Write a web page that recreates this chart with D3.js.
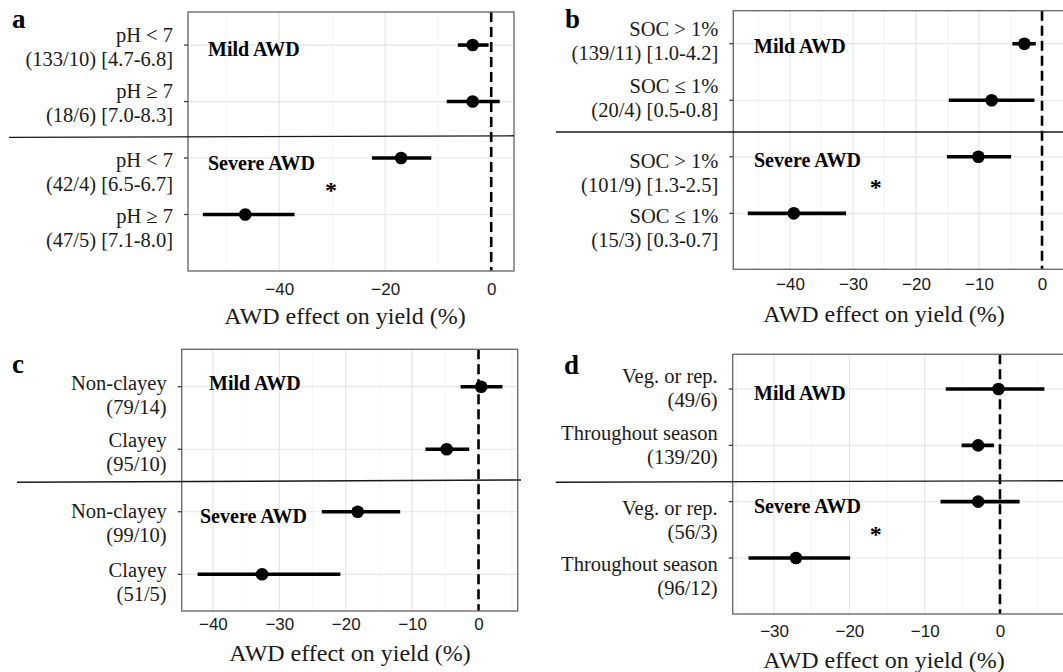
<!DOCTYPE html>
<html>
<head>
<meta charset="utf-8">
<script src="https://cdn.jsdelivr.net/npm/d3@7"></script>
<style>
  body { margin: 0; background: #fff; }
  svg { display: block; }
</style>
</head>
<body>
<div id="chart"></div>
<script>
// panel a: soil pH
const phLabels = [["pH < 7", "(133/10) [4.7-6.8]"], ["pH \u2265 7", "(18/6) [7.0-8.3]"],
                  ["pH < 7", "(42/4) [6.5-6.7]"], ["pH \u2265 7", "(47/5) [7.1-8.0]"]];
const phMean = [-3.5, -3.5, -17.0, -46.4];
const phLow  = [-6.3, -8.4, -22.5, -54.4];
const phHigh = [-0.5, 1.6, -11.3, -37.1];
const phTicks = [-40, -20, 0];

// panel b: soil organic carbon
const socLabels = [["SOC > 1%", "(139/11) [1.0-4.2]"], ["SOC \u2264 1%", "(20/4) [0.5-0.8]"],
                   ["SOC > 1%", "(101/9) [1.3-2.5]"], ["SOC \u2264 1%", "(15/3) [0.3-0.7]"]];
const socMean = [-2.8, -8.0, -10.1, -39.4];
const socLow  = [-4.7, -14.8, -15.1, -46.7];
const socHigh = [-1.0, -1.2, -4.9, -31.1];
const socTicks = [-40, -30, -20, -10, 0];

// panel c: soil texture
const texLabels = [["Non-clayey", "(79/14)"], ["Clayey", "(95/10)"],
                   ["Non-clayey", "(99/10)"], ["Clayey", "(51/5)"]];
const texMean = [0.4, -4.8, -18.2, -32.6];
const texLow  = [-2.7, -8.0, -23.6, -42.3];
const texHigh = [3.6, -1.4, -11.8, -20.8];
const texTicks = [-40, -30, -20, -10, 0];

// panel d: timing of AWD
const timLabels = [["Veg. or rep.", "(49/6)"], ["Throughout season", "(139/20)"],
                   ["Veg. or rep.", "(56/3)"], ["Throughout season", "(96/12)"]];
const timMean = [-0.2, -2.9, -2.9, -27.1];
const timLow  = [-7.2, -5.1, -7.9, -33.4];
const timHigh = [5.9, -0.8, 2.6, -19.9];
const timTicks = [-30, -20, -10, 0];

const groupNames = ["Mild AWD", "Severe AWD"];
const axisTitle = "AWD effect on yield (%)";

const width = 1063, height = 672;
const svg = d3.select("#chart").append("svg").attr("width", width).attr("height", height);

const serif = "'Liberation Serif', 'Times New Roman', serif";
const sans = "'Liberation Sans', Arial, sans-serif";

// layout per panel (pixels / domain extents)
const panels = [
  { letter: "a", labels: phLabels, mean: phMean, lo: phLow, hi: phHigh, ticks: phTicks, step: 20,
    xr: [188, 514], xd: [-57.2, 4.3], yr: [12, 271], yd: [0.415, 5.0],
    labDy: [-3.5, -4, 8.7, 8.4], letterPos: [12, 28], tickPad: 12,
    title: [345, 324], div: [9, 514, 2.635, 2.607],
    mild: [20, 11], severe: [20, 11.5], star: [-30.2, 3.52] },
  { letter: "b", labels: socLabels, mean: socMean, lo: socLow, hi: socHigh, ticks: socTicks, step: 10,
    xr: [733.3, 1070], xd: [-49.0, 4.44], yr: [10.7, 269.3], yd: [0.416, 4.99],
    labDy: [-7.7, -7, 11.6, 10], letterPos: [565, 28], tickPad: 9,
    title: [884, 322], div: [556, 1063, 2.562, 2.562],
    mild: [20.7, 9.3], severe: [20.7, 10], star: [-26.4, 3.48] },
  { letter: "c", labels: texLabels, mean: texMean, lo: texLow, hi: texHigh, ticks: texTicks, step: 10,
    xr: [181.7, 517.7], xd: [-44.7, 5.9], yr: [349.3, 611], yd: [0.402, 4.587],
    labDy: [3.3, -2.3, 6, 2.4], letterPos: [12, 373], tickPad: 7,
    title: [350, 661], div: [17, 521, 2.529, 2.492],
    mild: [27.3, 3.3], severe: [18.3, 11.6], star: null },
  { letter: "d", labels: timLabels, mean: timMean, lo: timLow, hi: timHigh, ticks: timTicks, step: 10,
    xr: [732.7, 1070], xd: [-35.5, 9.3], yr: [354.3, 614], yd: [0.384, 4.994],
    labDy: [-5.7, -5.3, 13.3, 12.7], letterPos: [564, 374], tickPad: 11,
    title: [884, 668], div: [555.7, 1063, 2.656, 2.628],
    mild: [21.3, 11], severe: [21.3, 11.6], star: [-16.5, 3.515] }
];

panels.forEach(function (p) {
  const x = d3.scaleLinear().domain(p.xd).range(p.xr);
  const y = d3.scaleLinear().domain(p.yd).range(p.yr);
  const rows = p.mean.map(function (m, i) {
    return { row: i + 1, mean: m, lo: p.lo[i], hi: p.hi[i], label: p.labels[i], dy: p.labDy[i] };
  });
  const g = svg.append("g");

  // minor grid
  const minor = [];
  p.ticks.forEach(function (t) { minor.push(t - p.step / 2, t + p.step / 2); });
  const minorIn = Array.from(new Set(minor)).filter(v => v > p.xd[0] && v < p.xd[1] && !p.ticks.includes(v));
  g.selectAll(".minor").data(minorIn).join("line")
    .attr("x1", d => x(d)).attr("x2", d => x(d))
    .attr("y1", p.yr[0]).attr("y2", p.yr[1])
    .attr("stroke", "#f2f2f2").attr("stroke-width", 0.8);

  // major grid
  g.selectAll(".major").data(p.ticks).join("line")
    .attr("x1", d => x(d)).attr("x2", d => x(d))
    .attr("y1", p.yr[0]).attr("y2", p.yr[1])
    .attr("stroke", "#e6e6e6").attr("stroke-width", 1.2);
  g.selectAll(".hgrid").data(rows).join("line")
    .attr("x1", p.xr[0]).attr("x2", p.xr[1])
    .attr("y1", d => y(d.row)).attr("y2", d => y(d.row))
    .attr("stroke", "#e6e6e6").attr("stroke-width", 1.2);

  // zero line
  g.append("line")
    .attr("x1", x(0)).attr("x2", x(0))
    .attr("y1", p.yr[0]).attr("y2", p.yr[1])
    .attr("stroke", "#000").attr("stroke-width", 2.6)
    .attr("stroke-dasharray", "10,5");

  // confidence intervals + means
  g.selectAll(".ci").data(rows).join("line")
    .attr("x1", d => x(d.lo)).attr("x2", d => x(d.hi))
    .attr("y1", d => y(d.row)).attr("y2", d => y(d.row))
    .attr("stroke", "#000").attr("stroke-width", 3.6);
  g.selectAll(".pt").data(rows).join("circle")
    .attr("cx", d => x(d.mean)).attr("cy", d => y(d.row))
    .attr("r", 6.3).attr("fill", "#000");

  // panel border
  g.append("rect")
    .attr("x", p.xr[0]).attr("y", p.yr[0])
    .attr("width", p.xr[1] - p.xr[0]).attr("height", p.yr[1] - p.yr[0])
    .attr("fill", "none").attr("stroke", "#6e6e6e").attr("stroke-width", 1.4);

  // y ticks and two-line labels
  g.selectAll(".ytick").data(rows).join("line")
    .attr("x1", p.xr[0] - 4).attr("x2", p.xr[0])
    .attr("y1", d => y(d.row)).attr("y2", d => y(d.row))
    .attr("stroke", "#333").attr("stroke-width", 1.2);
  const lab = g.selectAll(".ylab").data(rows).join("text")
    .attr("x", p.xr[0] - 15)
    .attr("y", d => y(d.row) + d.dy)
    .attr("text-anchor", "end")
    .style("font-family", serif).style("font-size", "20.5px").style("fill", "#1a1a1a");
  lab.append("tspan").text(d => d.label[0]);
  lab.append("tspan").attr("x", p.xr[0] - 15).attr("dy", 24).text(d => d.label[1]);

  // x axis
  const ax = g.append("g")
    .attr("transform", `translate(0,${p.yr[1]})`)
    .call(d3.axisBottom(x).tickValues(p.ticks).tickSize(0).tickPadding(p.tickPad));
  ax.select(".domain").remove();
  ax.selectAll("text").style("font-family", sans).style("font-size", "17px").style("fill", "#1a1a1a");

  g.append("text")
    .attr("x", p.title[0]).attr("y", p.title[1])
    .attr("text-anchor", "middle")
    .style("font-family", serif).style("font-size", "24px").style("fill", "#1a1a1a")
    .text(axisTitle);

  // divider between mild and severe
  g.append("line")
    .attr("x1", p.div[0]).attr("x2", p.div[1])
    .attr("y1", y(p.div[2])).attr("y2", y(p.div[3]))
    .attr("stroke", "#1a1a1a").attr("stroke-width", 1.4);

  // group labels
  g.append("text")
    .attr("x", p.xr[0] + p.mild[0]).attr("y", y(1) + p.mild[1])
    .style("font-family", serif).style("font-size", "20px").style("font-weight", "bold")
    .text(groupNames[0]);
  g.append("text")
    .attr("x", p.xr[0] + p.severe[0]).attr("y", y(3) + p.severe[1])
    .style("font-family", serif).style("font-size", "20px").style("font-weight", "bold")
    .text(groupNames[1]);

  if (p.star) {
    g.append("text")
      .attr("x", x(p.star[0])).attr("y", y(p.star[1]) + 11)
      .attr("text-anchor", "middle")
      .style("font-family", serif).style("font-size", "24px").style("font-weight", "bold")
      .text("*");
  }

  // panel letter
  g.append("text")
    .attr("x", p.letterPos[0]).attr("y", p.letterPos[1])
    .style("font-family", serif).style("font-size", "27px").style("font-weight", "bold")
    .text(p.letter);
});
</script>
</body>
</html>
